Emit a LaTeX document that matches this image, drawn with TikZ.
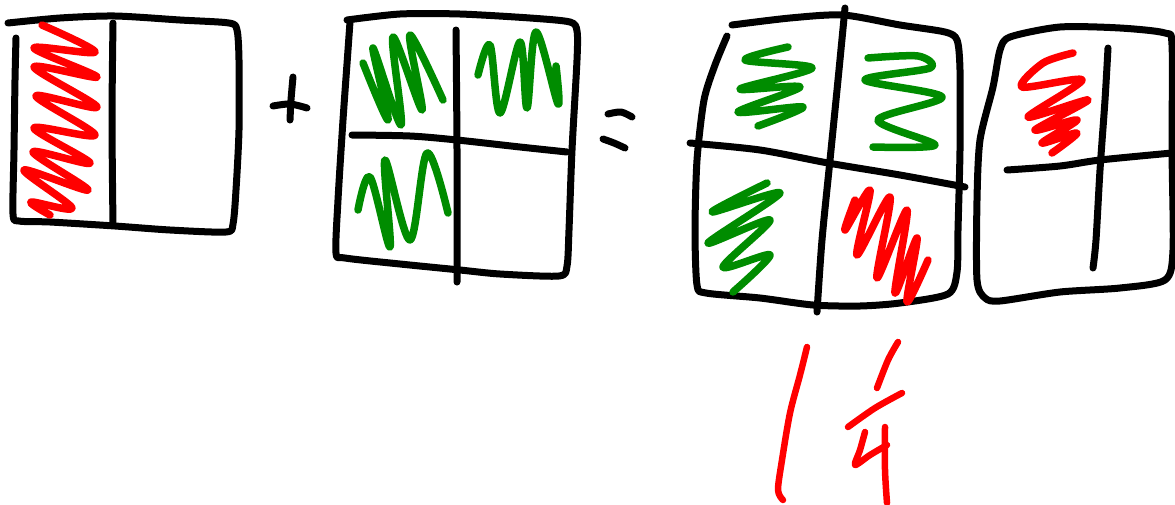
\documentclass[tikz,border=0pt]{standalone}
\usetikzlibrary{calc}
\definecolor{inkred}{RGB}{255,0,0}
\definecolor{inkgreen}{RGB}{0,140,0}
\tikzset{
  pen/.style={line width=7pt, line cap=round, line join=round},
  frame/.style={pen, black},
  redfill/.style={pen, inkred, line width=7.5pt},
  greenfill/.style={pen, inkgreen, line width=7.5pt},
  redhand/.style={pen, inkred, line width=6.5pt},
}
\begin{document}
\begin{tikzpicture}[x=1pt,y=-1pt]
\useasboundingbox (0,0) rectangle (1175,504);

% ---- first square: one half shaded ----
\draw[frame] plot[smooth,tension=0.45] coordinates {(8,23) (60,18) (115,16) (180,20) (229,23) (237,30) (239,60) (239,130) (236,190) (233,224) (226,232) (170,230) (115,226) (50,222) (19,221) (13,214) (14,150) (15,80) (16,38)};
\draw[frame] plot[smooth] coordinates {(113,23) (112,120) (113,225)};
\draw[redfill] plot[smooth,tension=0.55] coordinates {(42,25) (95,52) (34,48) (97,77) (34,67) (97,107) (36,96) (95,135) (34,128) (90,163) (33,152) (88,190) (24,170) (72,208) (31,202) (50,215)};

% ---- plus sign ----
\draw[frame] plot[smooth] coordinates {(293,77) (291,100) (290,120)};
\draw[frame] plot[smooth] coordinates {(273,106) (290,104) (307,108)};

% ---- second square: three quarters shaded ----
\draw[frame] plot[smooth,tension=0.45] coordinates {(347,20) (400,14) (460,14) (530,18) (570,22) (577,31) (577,60) (572,150) (569,230) (567,266) (559,276) (500,274) (460,270) (400,264) (345,258) (336,253) (338,200) (343,120) (348,50) (350,22)};
\draw[frame] plot[smooth] coordinates {(456,30) (457,150) (457,282)};
\draw[frame] plot[smooth] coordinates {(352,135) (410,136) (457,140) (520,147) (567,152)};
\draw[greenfill] plot[smooth,tension=0.55] coordinates {(363,63) (388,120) (373,48) (401,125) (393,37) (422,110) (410,35) (443,100)};
\draw[greenfill] plot[smooth,tension=0.55] coordinates {(478,75) (490,45) (500,113) (520,42) (527,108) (536,32) (558,104) (556,66)};
\draw[greenfill] plot[smooth,tension=0.55] coordinates {(358,210) (370,177) (390,247) (385,160) (410,240) (427,153) (448,213)};

% ---- equals sign ----
\draw[frame] plot[smooth] coordinates {(608,114) (621,112) (632,117)};
\draw[frame] plot[smooth] coordinates {(603,139) (614,143) (625,148)};

% ---- third square: a whole ----
\draw[frame] plot[smooth,tension=0.45] coordinates {(732,25) (790,18) (843,15) (900,25) (945,32) (957,40) (960,70) (960,150) (958,230) (957,272) (948,294) (900,303) (860,306) (813,305) (760,298) (706,293) (697,285) (695,230) (697,160) (704,100) (715,65) (727,36)};
\draw[frame] plot[smooth] coordinates {(845,8) (838,80) (830,160) (822,240) (817,312)};
\draw[frame] plot[smooth] coordinates {(690,143) (760,150) (828,163) (900,175) (965,187)};
\draw[greenfill] plot[smooth,tension=0.5] coordinates {(788,47) (745,60) (812,68) (740,89) (800,87) (738,112) (803,107) (758,126)};
\draw[greenfill] plot[smooth,tension=0.5] coordinates {(868,58) (918,56) (930,68) (865,80) (942,97) (878,120) (935,145) (873,147)};
\draw[greenfill] plot[smooth,tension=0.5] coordinates {(767,183) (712,212) (780,193) (708,243) (770,220) (723,267) (770,255) (733,292)};
\draw[redfill] plot[smooth,tension=0.5] coordinates {(855,200) (845,230) (870,190) (857,255) (890,197) (877,278) (907,210) (895,293) (917,238) (907,302) (928,260)};

% ---- fourth square: one quarter shaded ----
\draw[frame] plot[smooth cycle,tension=0.45] coordinates {(1010,37) (1060,27) (1120,28) (1165,33) (1172,45) (1172,150) (1173,250) (1165,280) (1120,288) (1060,292) (1000,301) (985,298) (977,280) (977,200) (980,140) (993,87) (1000,50)};
\draw[frame] plot[smooth] coordinates {(1108,48) (1105,100) (1100,170) (1096,240) (1093,268)};
\draw[frame] plot[smooth] coordinates {(1007,170) (1060,166) (1100,160) (1172,153)};
\draw[redfill] plot[smooth,tension=0.5] coordinates {(1073,53) (1043,63) (1022,87) (1082,80) (1028,117) (1088,100) (1035,130) (1077,120) (1042,143) (1077,133) (1052,153)};

% ---- handwritten one and a quarter ----
\draw[redhand] plot[smooth] coordinates {(807,347) (800,375) (790,413) (782,460) (778,490) (783,500)};
\draw[redhand] plot[smooth] coordinates {(898,342) (888,360) (877,388)};
\draw[redhand] plot[smooth] coordinates {(902,393) (875,408) (848,427)};
\draw[redhand] plot[smooth] coordinates {(865,432) (860,450) (855,465) (870,455) (887,445)};
\draw[redhand] plot[smooth] coordinates {(885,427) (885,470) (887,503)};
\end{tikzpicture}
\end{document}
